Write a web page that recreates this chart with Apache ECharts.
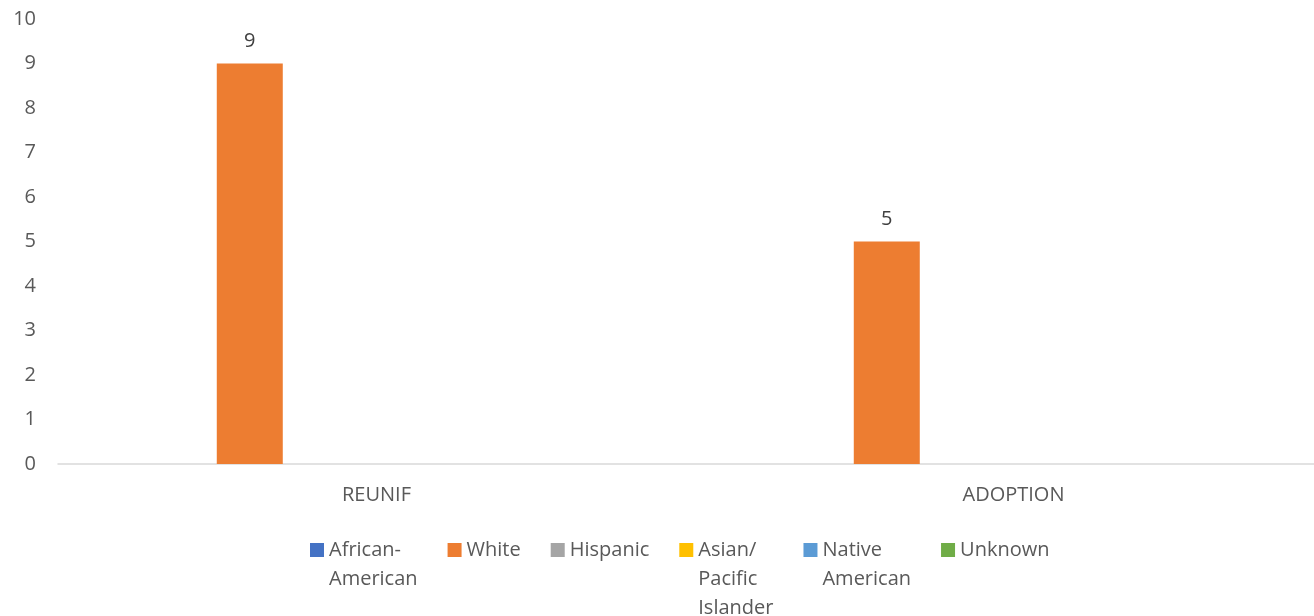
<!DOCTYPE html>
<html>
<head>
<meta charset="utf-8">
<style>html,body{margin:0;padding:0;background:#fff;}#c{width:1314px;height:616px;}</style>
<script src="https://cdn.jsdelivr.net/npm/echarts@6/dist/echarts.min.js"></script>
</head>
<body>
<div id="c"></div>
<script>
var categories = ['REUNIF', 'ADOPTION'];
var seriesNames = ['African-American', 'White', 'Hispanic', 'Asian/ Pacific Islander', 'Native American', 'Unknown'];
var legendLabels = ['African-\nAmerican\n', 'White\n\n', 'Hispanic\n\n', 'Asian/\nPacific\nIslander', 'Native\nAmerican\n', 'Unknown\n\n'];
var africanAmerican = [0, 0];
var white = [9, 5];
var hispanic = [0, 0];
var asianPacific = [0, 0];
var nativeAmerican = [0, 0];
var unknown = [0, 0];
var yTicks = [0, 10, 1];

var values = [africanAmerican, white, hispanic, asianPacific, nativeAmerican, unknown];
var colors = ['#4472C4', '#ED7D31', '#A5A5A5', '#FFC000', '#5B9BD5', '#70AD47'];
var font = 'Open Sans';
var labelMap = {};
seriesNames.forEach(function (n, i) { labelMap[n] = legendLabels[i]; });

var chart = echarts.init(document.getElementById('c'));
var series = seriesNames.map(function (name, i) {
  return {
    name: name,
    type: 'bar',
    data: values[i],
    barWidth: 66,
    barGap: '28%',
    itemStyle: { color: colors[i] },
    label: {
      show: i === 1,
      position: 'top',
      distance: 12,
      fontFamily: font,
      fontSize: 20,
      color: '#404040'
    }
  };
});

chart.setOption({
  animation: false,
  color: colors,
  grid: { left: 58, width: 1274, top: 19, bottom: 152, containLabel: false, outerBoundsMode: 'none' },
  xAxis: {
    type: 'category',
    data: categories,
    axisLine: { lineStyle: { color: '#d9d9d9', width: 1.5 } },
    axisTick: { show: false },
    axisLabel: { fontFamily: font, fontSize: 20, color: '#595959', margin: 21 }
  },
  yAxis: {
    type: 'value',
    min: yTicks[0],
    max: yTicks[1],
    interval: yTicks[2],
    splitLine: { show: false },
    axisLine: { show: false },
    axisTick: { show: false },
    axisLabel: { fontFamily: font, fontSize: 20, color: '#595959', margin: 22 }
  },
  legend: {
    left: 310,
    top: 535.5,
    padding: 0,
    itemGap: 30,
    itemWidth: 14,
    itemHeight: 87,
    icon: 'path://M0,7.5h14v14h-14z M0,0 M14,87',
    formatter: function (n) { return labelMap[n]; },
    textStyle: { fontFamily: font, fontSize: 20, color: '#595959', lineHeight: 29 },
    data: seriesNames
  },
  series: series
});
</script>
</body>
</html>
